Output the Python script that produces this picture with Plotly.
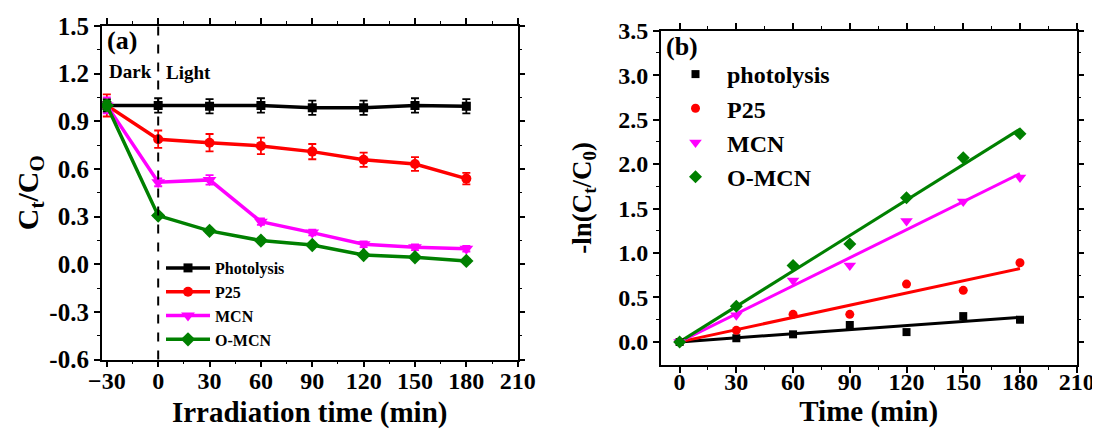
import numpy as np
import plotly.graph_objects as go

# ---------------- data: panel (a) ----------------
time_a = [-30, 0, 30, 60, 90, 120, 150, 180]
photolysis_a = [1.00, 1.00, 0.995, 1.00, 0.985, 0.985, 1.00, 0.995]
photolysis_err = [0.04, 0.045, 0.045, 0.045, 0.045, 0.045, 0.045, 0.045]
p25_a = [1.00, 0.787, 0.765, 0.745, 0.709, 0.658, 0.631, 0.539]
p25_err = [0.07, 0.055, 0.055, 0.052, 0.048, 0.045, 0.043, 0.036]
mcn_a = [1.00, 0.516, 0.531, 0.268, 0.199, 0.126, 0.107, 0.098]
mcn_err = [0.05, 0.025, 0.03, 0.02, 0.018, 0.018, 0.018, 0.018]
omcn_a = [1.00, 0.306, 0.210, 0.149, 0.121, 0.058, 0.044, 0.021]
omcn_err = [0.03, 0.012, 0.012, 0.012, 0.012, 0.012, 0.012, 0.012]

# ---------------- data: panel (b) ----------------
time_b = [0, 30, 60, 90, 120, 150, 180]
photolysis_b = [0.0, 0.04, 0.085, 0.19, 0.11, 0.29, 0.25]
p25_b = [0.0, 0.13, 0.31, 0.31, 0.65, 0.58, 0.89]
mcn_b = [0.0, 0.30, 0.69, 0.86, 1.36, 1.58, 1.85]
omcn_b = [0.0, 0.40, 0.86, 1.10, 1.62, 2.07, 2.34]

names_a = ["Photolysis", "P25", "MCN", "O-MCN"]
names_b = ["photolysis", "P25", "MCN", "O-MCN"]
colors = ["#000000", "#FF0000", "#FF00FF", "#008000"]
symbols = ["square", "circle", "triangle-down", "diamond"]
msizes = [9, 10, 12, 11]

FONT = "Liberation Serif, Times New Roman, serif"

fig = go.Figure()

series_a = [(photolysis_a, photolysis_err), (p25_a, p25_err), (mcn_a, mcn_err), (omcn_a, omcn_err)]
for (vals, err), name, c, s, ms in zip(series_a, names_a, colors, symbols, msizes):
    fig.add_trace(go.Scatter(
        x=time_a, y=vals, name=name, mode="lines+markers",
        line=dict(color=c, width=3.5),
        marker=dict(symbol=s, size=ms, color=c),
        error_y=dict(type="data", array=err, color=c, thickness=1.8, width=4),
        xaxis="x", yaxis="y", legend="legend",
    ))

series_b = [photolysis_b, p25_b, mcn_b, omcn_b]
xb = np.array(time_b, dtype=float)
for vals, name, c, s, ms in zip(series_b, names_b, colors, symbols, msizes):
    yb = np.array(vals, dtype=float)
    k = float(np.sum(xb * yb) / np.sum(xb * xb))  # linear fit through origin
    fig.add_trace(go.Scatter(
        x=[xb[0], xb[-1]], y=[k * xb[0], k * xb[-1]], mode="lines",
        line=dict(color=c, width=3), showlegend=False, hoverinfo="skip",
        xaxis="x2", yaxis="y2",
    ))
for vals, name, c, s, ms in zip(series_b, names_b, colors, symbols, msizes):
    fig.add_trace(go.Scatter(
        x=time_b, y=vals, name=name, mode="markers",
        marker=dict(symbol=s, size=ms - 1, color=c),
        xaxis="x2", yaxis="y2", legend="legend2",
    ))

W, H = 1100, 432
OFF = 8  # page body margin offset of the rendered div


def px(x):
    return (x - OFF) / W


def py(y):
    return 1 - (y - OFF) / H


def axis_common(tsize):
    return dict(
        showline=True, linecolor="black", linewidth=1.5, mirror="allticks",
        ticks="outside", ticklen=6, tickwidth=1.5, tickcolor="black",
        showgrid=False, zeroline=False, automargin=False,
        tickfont=dict(family=FONT, size=tsize, color="black", weight="bold"),
    )


minor_style = dict(ticks="outside", ticklen=3, tickwidth=1.2, tickcolor="black")

fig.update_layout(
    width=W, height=H,
    margin=dict(l=0, r=0, t=0, b=0, autoexpand=False),
    paper_bgcolor="white", plot_bgcolor="white",
    font=dict(family=FONT, color="black"),
    xaxis=dict(
        domain=[px(101.7), px(517.7)], range=[-33, 210], anchor="y",
        tickvals=[-30, 0, 30, 60, 90, 120, 150, 180, 210],
        minor=dict(tickvals=[-15, 15, 45, 75, 105, 135, 165, 195], **minor_style),
        ticklabelstandoff=-7,
        title=dict(text="<b>Irradiation time (min)</b>", font=dict(family=FONT, size=29), standoff=9),
        **axis_common(24),
    ),
    yaxis=dict(
        domain=[py(359.5), py(26)], range=[-0.6, 1.5], anchor="x",
        tickvals=[-0.6, -0.3, 0.0, 0.3, 0.6, 0.9, 1.2, 1.5],
        ticktext=["-0.6", "-0.3", "0.0", "0.3", "0.6", "0.9", "1.2", "1.5"],
        minor=dict(tickvals=[-0.45, -0.15, 0.15, 0.45, 0.75, 1.05, 1.35], **minor_style),
        title=dict(text="<b>C<sub>t</sub>/C<sub>O</sub></b>", font=dict(family=FONT, size=30), standoff=2),
        **axis_common(25),
    ),
    xaxis2=dict(
        domain=[px(660.7), px(1076.7)], range=[-10, 210], anchor="y2",
        tickvals=[0, 30, 60, 90, 120, 150, 180, 210],
        minor=dict(tickvals=[15, 45, 75, 105, 135, 165, 195], **minor_style),
        ticklabelstandoff=-12,
        title=dict(text="<b>Time (min)</b>", font=dict(family=FONT, size=29), standoff=6),
        **axis_common(24),
    ),
    yaxis2=dict(
        domain=[py(365), py(30.7)], range=[-0.26, 3.5], anchor="x2",
        tickvals=[0, 0.5, 1.0, 1.5, 2.0, 2.5, 3.0, 3.5],
        ticktext=["0.0", "0.5", "1.0", "1.5", "2.0", "2.5", "3.0", "3.5"],
        minor=dict(tickvals=[0.25, 0.75, 1.25, 1.75, 2.25, 2.75, 3.25], **minor_style),
        title=dict(text="<b>-ln(C<sub>t</sub>/C<sub>0</sub>)</b>", font=dict(family=FONT, size=27), standoff=19),
        **axis_common(24),
    ),
    legend=dict(
        x=px(161), y=py(251), xanchor="left", yanchor="top",
        bgcolor="rgba(0,0,0,0)", borderwidth=0,
        font=dict(family=FONT, size=16, color="black", weight="bold"),
        itemwidth=44, tracegroupgap=0,
    ),
    legend2=dict(
        x=px(664), y=py(52), xanchor="left", yanchor="top",
        bgcolor="rgba(0,0,0,0)", borderwidth=0,
        font=dict(family=FONT, size=24, color="black", weight="bold"),
        itemwidth=53, tracegroupgap=0,
    ),
    showlegend=True,
    shapes=[dict(
        type="line", xref="x", yref="y domain", x0=0, x1=0, y0=0, y1=1,
        line=dict(color="black", width=2, dash="dash"),
    )],
    annotations=[
        dict(text="<b>(a)</b>", x=px(105), y=py(41), xref="paper", yref="paper",
             xanchor="left", yanchor="middle", showarrow=False,
             font=dict(family=FONT, size=26, color="black")),
        dict(text="<b>Dark</b>", x=px(107), y=py(71), xref="paper", yref="paper",
             xanchor="left", yanchor="middle", showarrow=False,
             font=dict(family=FONT, size=19, color="black")),
        dict(text="<b>Light</b>", x=px(164), y=py(72), xref="paper", yref="paper",
             xanchor="left", yanchor="middle", showarrow=False,
             font=dict(family=FONT, size=19, color="black")),
        dict(text="<b>(b)</b>", x=px(664), y=py(46), xref="paper", yref="paper",
             xanchor="left", yanchor="middle", showarrow=False,
             font=dict(family=FONT, size=26, color="black")),
    ],
)

fig.write_html("out.html")
